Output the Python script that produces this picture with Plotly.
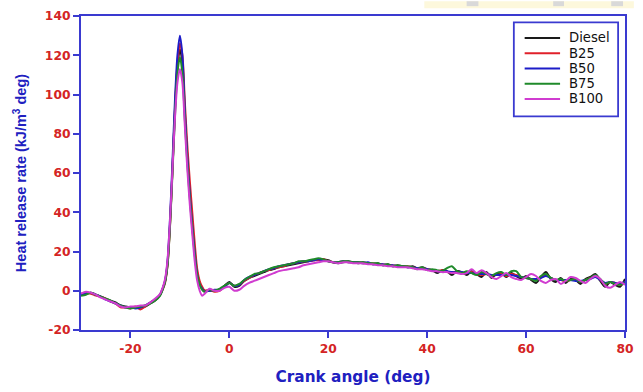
import plotly.graph_objects as go

# Crank angle grid (deg); finer spacing around the premixed combustion spike
crank_angle = [
    -30, -29, -28, -27, -26, -25, -24, -23, -22, -21, -20, -19, -18, -17, -16, -15,
    -14, -13.5, -13, -12.5, -12, -11.5, -11, -10.5, -10, -9.5, -9, -8.5, -8, -7.5,
    -7, -6.5, -6, -5.5, -5,
    -4, -3, -2, -1, 0, 1, 2, 3, 4, 5,
    6, 7, 8, 9, 10, 11, 12, 13, 14, 15,
    16, 17, 18, 19, 20, 21, 22, 23, 24, 25,
    26, 27, 28, 29, 30, 31, 32, 33, 34, 35,
    36, 37, 38, 39, 40, 41, 42, 43, 44, 45,
    46, 47, 48, 49, 50, 51, 52, 53, 54, 55,
    56, 57, 58, 59, 60, 61, 62, 63, 64, 65,
    66, 67, 68, 69, 70, 71, 72, 73, 74, 75,
    76, 77, 78, 79, 80,
]

# Heat release rate (kJ/m^3 deg) for each fuel
hrr_diesel = [
    -2, -1.5, -1, -2, -3, -4, -5, -6, -7.5, -8, -8.5, -8.5, -8.5, -8, -6.5, -5,
    -2, 1, 5, 14, 34, 62, 92, 114, 123, 116, 90, 68, 50, 34, 20, 9, 4, 1.5, 0,
    0, 0, 0.5, 2.5, 4.5, 2, 2.5, 5, 6.5, 7.5,
    8.5, 9.5, 10.5, 11, 12, 12.5, 13, 13.5, 14, 14.5,
    15, 15.5, 16, 16, 15.5, 14.5, 14, 14.5, 15, 14.5,
    14, 14.5, 14, 13.5, 14, 13, 13.5, 12.5, 13, 12.5,
    12, 12.5, 11.5, 12, 11, 10.5, 9, 10.5, 10, 8,
    10, 9.5, 8, 10, 8.5, 7, 9.5, 6.5, 8.5, 9,
    7, 9, 7.5, 6, 7.5, 5.5, 4, 7, 9.5, 6,
    4.5, 6.5, 4, 6, 5.5, 3.5, 6, 7, 8.5, 5,
    2, 4.5, 3, 2, 6,
]
hrr_b25 = [
    -1.5, -1, -1.5, -2.5, -3, -4, -5.5, -6.5, -8.5, -8.5, -9, -8, -9.5, -8, -6, -4.5,
    -2, 0.5, 4, 13, 33, 62, 93, 116, 126, 120, 96, 74, 56, 40, 24, 11, 5, 2, 0,
    0.5, -0.5, 0, 2, 4, 2.5, 3, 5, 6.5, 8,
    9, 10, 10.5, 11.5, 12, 12.5, 13.5, 14, 14.5, 15,
    15, 15.5, 15.5, 16, 15, 14.5, 14.5, 15, 14.5, 14.5,
    14.5, 14, 14, 14, 13.5, 13.5, 13, 13, 12.5, 12.5,
    12.5, 12, 11.5, 11.5, 11, 10.5, 10, 10.5, 9.5, 9.5,
    9.5, 9, 9, 9.5, 8.5, 8, 8.5, 8, 8, 8.5,
    7.5, 8.5, 8, 7, 6.5, 6, 5.5, 7, 8, 6.5,
    5.5, 5.5, 5, 5.5, 5.5, 4.5, 5.5, 6.5, 7.5, 5.5,
    3.5, 4.5, 4, 3, 4.5,
]
hrr_b50 = [
    -2, -1.5, -1, -2, -3, -4.5, -5.5, -6.5, -7.5, -8.5, -8.5, -9, -8.5, -7.5, -6, -4.5,
    -2, 1, 5, 15, 37, 66, 97, 120, 130, 120, 92, 68, 49, 33, 19, 8, 3, 1, -0.5,
    0, 0.5, 0.5, 2, 4, 2.5, 3, 5.5, 7, 8,
    9, 10, 11, 11.5, 12.5, 13, 13.5, 14, 14.5, 15,
    15, 15.5, 16, 15.5, 15, 14.5, 14.5, 15, 14.5, 14.5,
    14.5, 14, 14.5, 13.5, 13.5, 13.5, 13, 13, 12.5, 12.5,
    12, 12, 11.5, 11.5, 11, 10.5, 10, 10, 10, 9.5,
    9.5, 9.5, 9, 9, 8.5, 8.5, 8.5, 8, 8, 8,
    8, 8, 7.5, 7, 6.5, 6, 6, 6.5, 7.5, 6.5,
    5.5, 5.5, 5.5, 5.5, 5, 5, 5.5, 6, 7, 5.5,
    4, 4.5, 4, 3.5, 4.5,
]
hrr_b75 = [
    -2.5, -2, -1, -2, -3, -4, -5, -6.5, -7.5, -8.5, -9, -8.5, -8, -7.5, -6.5, -5,
    -2.5, 0.5, 4.5, 13, 33, 60, 89, 111, 119, 111, 87, 65, 47, 32, 18, 8, 3, 0.5, -0.5,
    0.5, 0, 1, 2.5, 4, 2.5, 3.5, 5.5, 7, 8.5,
    9, 10, 11, 12, 12.5, 13, 13.5, 14, 15, 15,
    15.5, 16, 16.5, 16, 15, 14.5, 14.5, 15, 15, 14.5,
    14.5, 14.5, 14, 14, 14, 13, 13.5, 12.5, 13, 12.5,
    12.5, 12, 11, 12, 10.5, 11, 10.5, 10, 11.5, 12.5,
    10, 9, 10, 9, 8, 9.5, 8.5, 7.5, 9, 9.5,
    8, 10, 10, 7, 6.5, 6, 5, 7.5, 8.5, 6.5,
    5.5, 6, 5, 5.5, 6, 4.5, 5.5, 6.5, 8, 6,
    3.5, 4.5, 3.5, 3, 4,
]
hrr_b100 = [
    -1.5, -0.5, -1, -2, -3.5, -4.5, -5.5, -6.5, -8, -8.5, -8, -8, -7.5, -7.5, -6, -4,
    -1.5, 1.5, 6, 16, 36, 62, 88, 106, 113, 106, 84, 62, 44, 29, 15, 5, 0, -2.5, -1.5,
    1, 0, 0, 1.5, 2, 0, 0.5, 2.5, 4, 5,
    6, 7, 8, 9, 10, 10.5, 11, 11.5, 12, 13,
    13.5, 14, 14.5, 15, 15, 14.5, 14, 14.5, 14.5, 14,
    14, 14, 13.5, 13.5, 13, 13, 12.5, 12.5, 12, 12,
    12, 11.5, 11, 11, 10.5, 10, 10, 9.5, 9.5, 9,
    9, 8.5, 9, 11, 9, 10.5, 9, 7, 6, 7.5,
    9, 7, 6, 5.5, 7, 8.5, 7.5, 5, 4, 5.5,
    6, 3.5, 5, 7, 6.5, 5, 4, 6, 7.5, 6,
    2.5, 1.5, 3, 4.5, 3,
]

fuel_names = ["Diesel", "B25", "B50", "B75", "B100"]
fuel_series = [hrr_diesel, hrr_b25, hrr_b50, hrr_b75, hrr_b100]
fuel_colors = ["#1a1a1a", "#e0202a", "#1c1cc8", "#1f8a2a", "#d03cd0"]

x_ticks = [-20, 0, 20, 40, 60, 80]
y_ticks = [-20, 0, 20, 40, 60, 80, 100, 120, 140]

# Figure geometry (px)
FIG_W, FIG_H = 643, 392
M_L, M_R, M_T, M_B = 81, 9, 15, 58
PLOT_W = FIG_W - M_L - M_R
PLOT_H = FIG_H - M_T - M_B


def px_to_paper_x(px):
    return (px - M_L) / PLOT_W


def px_to_paper_y(py):
    return 1 - (py - M_T) / PLOT_H


axis_blue = "#3a3ad0"
tick_red = "#d42424"
title_blue = "#2020c0"
wide_font = "DejaVu Sans, Verdana, sans-serif"
base_font = "Liberation Sans, Arial, sans-serif"

fig = go.Figure()
for name, values, color in zip(fuel_names, fuel_series, fuel_colors):
    fig.add_trace(go.Scatter(
        x=crank_angle, y=values, name=name, mode="lines", showlegend=False,
        line=dict(color=color, width=2, shape="spline", smoothing=0.8),
    ))

# Boxed legend in the upper-right corner of the plot
shapes = [
    dict(type="rect", xref="paper", yref="paper",
         x0=px_to_paper_x(521), x1=px_to_paper_x(627),
         y0=px_to_paper_y(117), y1=px_to_paper_y(21.5),
         fillcolor="white", line=dict(color=axis_blue, width=1.8)),
]
annotations = []
legend_row_y = 37.3
legend_row_step = 15.5
for i, (name, color) in enumerate(zip(fuel_names, fuel_colors)):
    row_y = px_to_paper_y(legend_row_y + i * legend_row_step)
    shapes.append(dict(type="line", xref="paper", yref="paper",
                       x0=px_to_paper_x(532), x1=px_to_paper_x(568),
                       y0=row_y, y1=row_y, line=dict(color=color, width=2)))
    annotations.append(dict(xref="paper", yref="paper", x=px_to_paper_x(575), y=row_y,
                            xanchor="left", yanchor="middle", showarrow=False,
                            text=name, font=dict(family=wide_font, size=13.2, color="#111111")))

# pale banner strip along the top edge
shapes += [
    dict(type="rect", xref="paper", yref="paper", x0=px_to_paper_x(430), x1=px_to_paper_x(643),
         y0=px_to_paper_y(7), y1=px_to_paper_y(0), fillcolor="#fdf8dc",
         line=dict(width=0), layer="below"),
    dict(type="rect", xref="paper", yref="paper", x0=px_to_paper_x(473), x1=px_to_paper_x(485),
         y0=px_to_paper_y(5), y1=px_to_paper_y(0), fillcolor="#d9d9d9",
         line=dict(width=0), layer="below"),
    dict(type="rect", xref="paper", yref="paper", x0=px_to_paper_x(561), x1=px_to_paper_x(572),
         y0=px_to_paper_y(5), y1=px_to_paper_y(0), fillcolor="#d9d9d9",
         line=dict(width=0), layer="below"),
    dict(type="rect", xref="paper", yref="paper", x0=px_to_paper_x(620), x1=px_to_paper_x(632),
         y0=px_to_paper_y(5), y1=px_to_paper_y(0), fillcolor="#d9d9d9",
         line=dict(width=0), layer="below"),
]

fig.update_layout(
    width=FIG_W, height=FIG_H,
    margin=dict(l=M_L, r=M_R, t=M_T, b=M_B),
    paper_bgcolor="white", plot_bgcolor="white",
    font=dict(family=base_font),
    showlegend=False,
    shapes=shapes,
    annotations=annotations,
)

fig.update_xaxes(
    range=[-30, 80], tickvals=x_ticks, ticktext=[str(v) for v in x_ticks],
    showgrid=False, zeroline=False,
    showline=True, linecolor=axis_blue, linewidth=2, mirror=True,
    ticks="outside", ticklen=6, tickwidth=2, tickcolor=axis_blue,
    ticklabeloverflow="allow",
    tickfont=dict(size=12.3, color=tick_red, family=wide_font, weight="bold"),
    title=dict(text="<b>Crank angle (deg)</b>", standoff=17,
               font=dict(size=15.3, color=title_blue, family=wide_font)),
)
fig.update_yaxes(
    range=[-20, 140], tickvals=y_ticks, ticktext=[str(v) for v in y_ticks],
    showgrid=False, zeroline=False,
    showline=True, linecolor=axis_blue, linewidth=2, mirror=True,
    ticks="outside", ticklen=6, tickwidth=2, tickcolor=axis_blue,
    tickfont=dict(size=12.3, color=tick_red, family=wide_font, weight="bold"),
    title=dict(text="<b>Heat release rate (kJ/m<sup>3</sup> deg)</b>", standoff=15,
               font=dict(size=14.5, color=title_blue, family=base_font)),
)

fig.write_html("out.html")
